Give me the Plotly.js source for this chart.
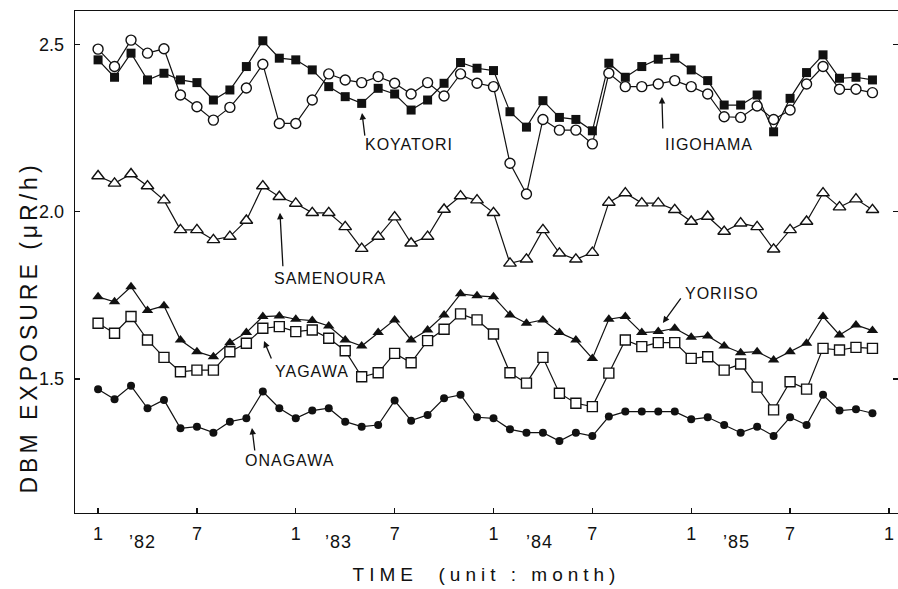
<!DOCTYPE html>
<html>
<head>
<meta charset="utf-8">
<script src="https://cdn.plot.ly/plotly-3.0.1.min.js"></script>
<style>
html,body{margin:0;padding:0;background:#fff;}
#chart{width:898px;height:589px;}
.xtitle{letter-spacing:5px;}
.annotation-text{letter-spacing:1px;}
</style>
</head>
<body>
<div id="chart"></div>
<script>
// Month tick labels (every 6 months, Jan 1982 .. Jan 1986)
const tickMonths = [0, 6, 12, 18, 24, 30, 36, 42, 48];
const monthLabels = ['1', '7', '1', '7', '1', '7', '1', '7', '1'];
const yearLabels = ['\u201982', '\u201983', '\u201984', '\u201985'];
const yearPos = [2.7, 14.6, 26.8, 38.75];
const yTickVals = [1.5, 2.0, 2.5];
const yTickText = ['1.5', '2.0', '2.5'];

// Monthly DBM exposure (µR/h), Jan 1982 .. Dec 1985
const koyatori = [2.454,2.402,2.474,2.394,2.414,2.394,2.386,2.334,2.364,2.434,
                  2.511,2.459,2.454,2.424,2.374,2.344,2.324,2.369,2.352,2.304,
                  2.334,2.384,2.446,2.429,2.422,2.299,2.253,2.332,2.282,2.276,
                  2.242,2.444,2.402,2.434,2.456,2.459,2.424,2.392,2.319,2.319,
                  2.349,2.239,2.339,2.416,2.469,2.399,2.402,2.394];
const iigohama = [2.486,2.434,2.513,2.474,2.487,2.349,2.314,2.274,2.312,2.370,
                  2.441,2.264,2.264,2.334,2.412,2.394,2.386,2.404,2.384,2.352,
                  2.386,2.346,2.412,2.384,2.374,2.145,2.053,2.276,2.244,2.244,
                  2.203,2.414,2.374,2.374,2.382,2.392,2.374,2.352,2.284,2.282,
                  2.316,2.276,2.304,2.382,2.434,2.366,2.366,2.356];
const samenoura = [2.107,2.085,2.113,2.077,2.035,1.946,1.946,1.916,1.926,1.974,
                   2.077,2.045,2.025,1.997,1.997,1.955,1.890,1.926,1.984,1.906,
                   1.926,2.007,2.047,2.035,1.997,1.846,1.858,1.946,1.876,1.858,
                   1.878,2.028,2.056,2.026,2.026,2.006,1.971,1.986,1.941,1.966,
                   1.955,1.888,1.946,1.971,2.056,2.014,2.038,2.006];
const yoriiso = [1.746,1.731,1.776,1.705,1.719,1.617,1.582,1.567,1.609,1.639,
                 1.687,1.689,1.679,1.675,1.659,1.617,1.599,1.639,1.677,1.617,
                 1.647,1.692,1.755,1.749,1.746,1.692,1.667,1.677,1.639,1.617,
                 1.562,1.679,1.687,1.639,1.642,1.652,1.625,1.629,1.599,1.579,
                 1.582,1.557,1.582,1.607,1.687,1.632,1.662,1.645];
const yagawa = [1.667,1.637,1.687,1.617,1.565,1.522,1.527,1.527,1.582,1.607,
                1.652,1.657,1.642,1.647,1.622,1.585,1.507,1.519,1.577,1.549,
                1.615,1.649,1.695,1.677,1.635,1.519,1.488,1.565,1.458,1.428,
                1.418,1.518,1.617,1.597,1.609,1.609,1.562,1.567,1.527,1.545,
                1.476,1.408,1.492,1.470,1.592,1.587,1.595,1.592];
const onagawa = [1.470,1.440,1.480,1.413,1.438,1.353,1.358,1.340,1.373,1.383,
                 1.463,1.413,1.383,1.406,1.413,1.373,1.358,1.363,1.436,1.376,
                 1.393,1.443,1.453,1.386,1.383,1.350,1.340,1.340,1.315,1.340,
                 1.330,1.388,1.403,1.403,1.403,1.403,1.380,1.386,1.363,1.340,
                 1.358,1.330,1.386,1.363,1.453,1.406,1.410,1.398];

const months = koyatori.map((_, i) => i);
const INK = '#111';
const FONT = 'Liberation Sans, Arial, sans-serif';

function series(name, y, symbol, fill, size) {
  return {
    type: 'scatter', mode: 'lines+markers', name: name, x: months, y: y,
    line: {color: INK, width: 1.2},
    marker: {symbol: symbol, size: size, color: fill,
             line: {color: INK, width: fill === '#fff' ? 1.4 : 0}},
    cliponaxis: false, hoverinfo: 'name+y'
  };
}

const data = [
  series('KOYATORI', koyatori, 'square', INK, 9),
  series('IIGOHAMA', iigohama, 'circle', '#fff', 10),
  series('SAMENOURA', samenoura, 'triangle-up', '#fff', 11),
  series('YORIISO', yoriiso, 'triangle-up', INK, 10),
  series('YAGAWA', yagawa, 'square', '#fff', 10),
  series('ONAGAWA', onagawa, 'circle', INK, 8)
];

const labelFont = {family: FONT, size: 16, color: INK};
function label(text, x, y) {
  return {text: text, x: x, y: y, xref: 'x', yref: 'y', showarrow: false,
          xanchor: 'left', yanchor: 'middle', font: labelFont};
}
function arrow(x, y, ax, ay) {
  return {text: '', x: x, y: y, xref: 'x', yref: 'y', showarrow: true,
          ax: ax, ay: ay, arrowhead: 2, arrowsize: 1, arrowwidth: 1.3, arrowcolor: INK, standoff: 0};
}

const annotations = [
  label('KOYATORI', 16.08, 2.20), arrow(16.02, 2.295, 3, 24),
  label('IIGOHAMA', 34.28, 2.20), arrow(34.22, 2.343, 1, 33),
  label('SAMENOURA', 10.56, 1.802), arrow(11.04, 1.997, 3, 55),
  label('YAGAWA', 10.6, 1.524), arrow(10.07, 1.614, 8, 19),
  label('YORIISO', 35.5, 1.757), arrow(34.28, 1.668, 19, -26),
  label('ONAGAWA', 8.8, 1.258), arrow(9.34, 1.354, 3, 24)
];
yearLabels.forEach((t, i) => annotations.push({
  text: t, x: yearPos[i], y: -0.057, xref: 'x', yref: 'paper', showarrow: false,
  xanchor: 'center', yanchor: 'middle',
  font: {family: FONT, size: 18, color: INK}
}));
// y-axis title (placed as an annotation so it can sit lower, as in the original)
annotations.push({
  text: 'DBM EXPOSURE (\u03bcR/h)',
  x: -0.055, y: 0.37, xref: 'paper', yref: 'paper', showarrow: false,
  textangle: -90, xanchor: 'center', yanchor: 'middle',
  font: {family: FONT, size: 23, color: INK}
});

const axisCommon = {
  ticks: 'inside', ticklen: 5, tickwidth: 1.3, tickcolor: INK,
  showline: true, linewidth: 1.3, linecolor: INK,
  showgrid: false, zeroline: false, automargin: false,
  tickfont: {family: FONT, size: 18, color: INK}
};

const layout = {
  width: 898, height: 589,
  margin: {l: 75, r: 0, t: 11, b: 76, pad: 0},
  paper_bgcolor: '#fff', plot_bgcolor: '#fff',
  showlegend: false,
  font: {family: FONT, color: INK},
  xaxis: Object.assign({}, axisCommon, {
    range: [-1.4, 48.55], tickmode: 'array', tickvals: tickMonths, ticktext: monthLabels,
    mirror: true, ticklabelstandoff: 4,
    title: {text: 'TIME  (unit : month)', font: {size: 19, color: INK}, standoff: 24}
  }),
  yaxis: Object.assign({}, axisCommon, {
    range: [1.1, 2.6], tickmode: 'array', tickvals: yTickVals, ticktext: yTickText,
    mirror: 'ticks', ticklabelstandoff: 6
  }),
  annotations: annotations
};

Plotly.newPlot('chart', data, layout, {displayModeBar: false, staticPlot: true}).then(() => {
  // letter spacing of the rotated y title, like the original lettering
  document.querySelectorAll('.annotation-text').forEach(el => {
    if (el.textContent.indexOf('DBM') === 0) el.style.letterSpacing = '4px';
  });
});
</script>
</body>
</html>
